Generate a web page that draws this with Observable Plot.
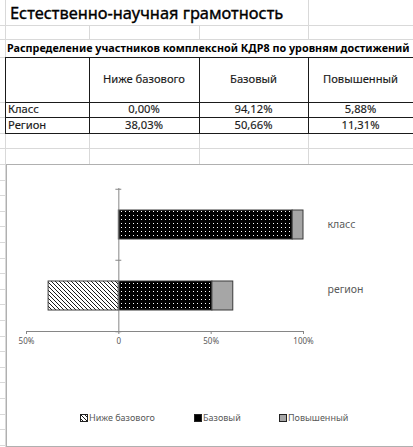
<!DOCTYPE html>
<html>
<head>
<meta charset="utf-8">
<script src="https://cdn.jsdelivr.net/npm/d3@7"></script>
<script src="https://cdn.jsdelivr.net/npm/@observablehq/plot@0.6"></script>
<style>
  html, body { margin: 0; padding: 0; background: #fff; }
  body { width: 413px; height: 447px; overflow: hidden; position: relative; font-family: "Noto Sans", sans-serif; }
  .gl { position: absolute; background: #d9d9d9; }
  .bl { position: absolute; background: #1a1a1a; }
  .t { position: absolute; white-space: nowrap; color: #1a1a1a; -webkit-text-stroke: 0.15px #1a1a1a; }
  #chart { position: absolute; left: 6px; top: 164px; width: 420px; height: 281px; background: #fff;
           border-left: 1px solid #b0b0b0; border-top: 1px solid #b0b0b0; border-bottom: 1px solid #b0b0b0; }
  #plot { position: absolute; left: 0; top: 0; }
  .lg { position: absolute; top: 246px; font-size: 9px; color: #595959; display: flex; align-items: center; gap: 1px; white-space: nowrap; }
  .lg svg { display: block; }
</style>
</head>
<body>
<svg width="0" height="0" style="position:absolute">
  <defs>
    <pattern id="hatch" patternUnits="userSpaceOnUse" width="4" height="4">
      <rect width="4" height="4" fill="#fff"></rect>
      <path d="M-1,-1 L5,5 M3,-1 L5,1 M-1,3 L1,5" stroke="#000" stroke-width="0.9"></path>
    </pattern>
    <pattern id="dots" patternUnits="userSpaceOnUse" width="4" height="4">
      <rect width="4" height="4" fill="#000"></rect>
      <rect x="2" y="2" width="1" height="1" fill="#fff"></rect>
    </pattern>
  </defs>
</svg>
<div id="sheet"></div>
<div id="chart">
  <div id="plot"></div>
  <div id="legend"></div>
</div>
<script>
// ---- data ----
const title = "Естественно-научная грамотность";
const subtitle = "Распределение участников комплексной КДР8 по уровням достижений";
const levels = ["Ниже базового", "Базовый", "Повышенный"];
const tableRows = ["Класс", "Регион"];
const categories = ["класс", "регион"];
const classValues = [0.00, 94.12, 5.88];
const regionValues = [38.03, 50.66, 11.31];
const xTicks = [-50, 0, 50, 100];

// ---- spreadsheet background ----
const sheet = document.getElementById("sheet");
function add(cls, css, text) {
  const d = document.createElement("div");
  d.className = cls;
  Object.assign(d.style, css);
  if (text !== undefined) d.textContent = text;
  sheet.appendChild(d);
  return d;
}
// horizontal gridlines
[25, 39, 148, 164].forEach(y => add("gl", {left: "0px", top: y + "px", width: "413px", height: "1px"}));
[57, 102, 117, 133].forEach(y => add("gl", {left: "0px", top: y + "px", width: "5px", height: "1px"}));
for (let y = 179.5; y < 447; y += 15.6) add("gl", {left: "0px", top: Math.round(y) + "px", width: "6px", height: "1px"});
// vertical gridlines
add("gl", {left: "5px", top: "0px", width: "1px", height: "447px"});
[[308, 0, 25], [89, 25, 14], [199, 25, 14], [308, 25, 14], [89, 133, 31], [199, 133, 31], [308, 133, 31]]
  .forEach(([x, y, h]) => add("gl", {left: x + "px", top: y + "px", width: "1px", height: h + "px"}));
// table borders
[57, 102, 117, 133].forEach(y => add("bl", {left: "5px", top: y + "px", width: "410px", height: "1px"}));
[5, 89, 199, 308].forEach(x => add("bl", {left: x + "px", top: "57px", width: "1px", height: "77px"}));

// texts
add("t", {left: "10px", top: "1px", fontSize: "16.4px", color: "#000", webkitTextStroke: "0.35px #000"}, title);
add("t", {left: "7px", top: "40px", fontSize: "10.8px", fontWeight: "bold", color: "#000", webkitTextStroke: "0px"}, subtitle);
const colX = [[89, 199], [199, 308], [308, 413]];
levels.forEach((lv, i) => {
  const [a, b] = colX[i];
  add("t", {left: a + "px", width: (b - a) + "px", textAlign: "center", top: "71px", fontSize: "11.2px"}, lv);
});
const fmt = v => v.toFixed(2).replace(".", ",") + "%";
[classValues, regionValues].forEach((vals, r) => {
  const top = r === 0 ? 101 : 117;
  add("t", {left: "8px", top: top + "px", fontSize: "11.2px"}, tableRows[r]);
  vals.forEach((v, i) => {
    const [a, b] = colX[i];
    add("t", {left: a + "px", width: (b - a) + "px", textAlign: "center", top: top + "px", fontSize: "11.2px"}, fmt(v));
  });
});

// ---- chart ----
const segments = [];
[classValues, regionValues].forEach((vals, i) => {
  const [below, basic, high] = vals;
  if (below > 0) segments.push({cat: categories[i], level: levels[0], x1: -below, x2: 0});
  segments.push({cat: categories[i], level: levels[1], x1: 0, x2: basic});
  segments.push({cat: categories[i], level: levels[2], x1: basic, x2: basic + high});
});
const fills = ["url(#hatch)", "url(#dots)", "#a6a6a6"];
const swatchFills = ["url(#hatch)", "#000", "#a6a6a6"];

const plot = Plot.plot({
  width: 407,
  height: 195,
  marginLeft: 19,
  marginRight: 111,
  marginTop: 23,
  marginBottom: 29,
  style: {fontFamily: "Noto Sans, sans-serif", fontSize: "8px", color: "#595959", background: "transparent"},
  x: {domain: [-50, 100], label: null},
  y: {domain: categories, padding: 0, label: null},
  color: {domain: levels, range: fills},
  marks: [
    Plot.frame({anchor: "bottom", stroke: "#868686"}),
    Plot.axisX({ticks: xTicks, tickSize: 3, tickPadding: 4, stroke: "#868686", label: null,
      tickFormat: d => d === 0 ? "0" : Math.abs(d) + "%", fill: "#595959", fontSize: 8}),
    Plot.axisY({ticks: categories.slice(0, 1), anchor: "right", tickSize: 0, tickPadding: 24, textAnchor: "start",
      label: null, fill: "#595959", fontSize: 10.5}),
    Plot.axisY({ticks: categories.slice(1), anchor: "right", tickSize: 0, tickPadding: 24, textAnchor: "start",
      label: null, fill: "#595959", fontSize: 10.5, dy: -6}),
    Plot.barX(segments, {x1: "x1", x2: "x2", y: "cat", fill: "level", stroke: "#3a3a3a", strokeWidth: 1,
      insetTop: 21, insetBottom: 21}),
    Plot.ruleX([0], {stroke: "#868686"}),
    Plot.ruleY(categories, {y: d => d, x1: -1.6, x2: 1.6, dy: -35.75, stroke: "#868686"}),
    Plot.ruleY(categories.slice(-1), {y: d => d, x1: -1.6, x2: 1.6, dy: 35.75, stroke: "#868686"})
  ]
});
document.getElementById("plot").appendChild(plot);

// legend
const legend = document.getElementById("legend");
const legendX = [73, 187, 272];
levels.forEach((lv, i) => {
  const item = document.createElement("div");
  item.className = "lg";
  item.style.left = legendX[i] + "px";
  item.innerHTML = `<svg width="8" height="8"><rect x="0.5" y="0.5" width="7" height="7" fill="${swatchFills[i]}" stroke="#222"></rect></svg><span>${lv}</span>`;
  legend.appendChild(item);
});
</script>
</body>
</html>
